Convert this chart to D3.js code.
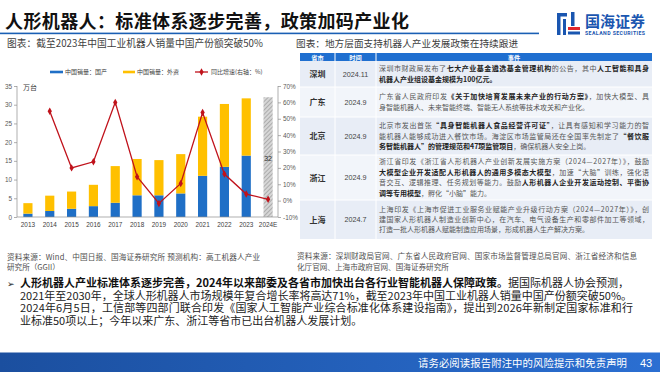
<!DOCTYPE html>
<html><head><meta charset="utf-8">
<script src="https://cdn.jsdelivr.net/npm/d3@7"></script>
<style>
body{margin:0;background:#fff;}
svg{display:block;font-family:"Noto Sans CJK SC","Noto Sans",sans-serif;}
</style>
</head><body>
<svg id="c" width="660" height="372"></svg>
<script>
// ---------------- data ----------------
const years = ["2013","2014","2015","2016","2017","2018","2019","2020","2021","2022","2023","2024E"];
const domestic = [0.9,1.6,2.2,2.9,3.8,5.8,5.8,6.3,11.0,13.4,16.4,0];
const foreign  = [2.8,4.1,4.6,5.7,9.8,9.7,9.4,10.5,15.8,16.8,15.3,0];
const forecast = [0,0,0,0,0,0,0,0,0,0,0,32];
const growth   = [null,54.6,20.0,23.7,60.0,14.6,-1.7,10.5,53.8,16.2,4.0,0.8];
const leftTicks  = [0,5,10,15,20,25,30,35];
const rightTicks = [-10,0,10,20,30,40,50,60,70];
const legendLabels = ["中国销量：国产","中国销量：外资","同比增速(右轴：%)"];

const provinces = ["深圳","广东","北京","浙江","上海"];
const dates = ["2024.11","2024.9","2024.9","2024.9","2024.7"];
// each row: lines, each line: segments [text, bold]
const events = [
  [[["深圳市财政局发布了",0],["七大产业基金遴选基金管理机构",1],["的公告，其中",0],["人工智能和具身",1]],
   [["机器人产业组设基金规模为100亿元。",1]]],
  [[["广东省人民政府印发",0],["《关于加快培育发展未来产业的行动方案》",1],["，加快大模型、具",0]],
   [["身智能机器人、未来智能终端、智能无人系统等技术攻关和产业化。",0]]],
  [[["北京市发出首张",0],["“具身智能机器人食品经营许可证”",1],["，让具有感知和学习能力的智",0]],
   [["能机器人能够成功进入餐饮市场。海淀区市场监管局还在全国率先制定了",0],["“餐饮服",1]],
   [["务智能机器人”的管理规范和47项监管项目",1],["，确保机器人安全上岗。",0]]],
  [[["浙江省印发《浙江省人形机器人产业创新发展实施方案（2024—2027年）》，鼓励",0]],
   [["大模型企业开发适配人形机器人的通用多模态大模型",1],["，加速“大脑”训练，强化语",0]],
   [["音交互、逻辑推理、任务规划等能力。鼓励",0],["人形机器人企业开发运动控制、平衡协",1]],
   [["调等专用模型",1],["，孵化“小脑”能力。",0]]],
  [[["上海印发《上海市促进工业服务业赋能产业升级行动方案（2024—2027年）》，创",0]],
   [["建国家人形机器人制造业创新中心，在汽车、电气设备生产和零部件加工等领域，",0]],
   [["打造一批人形机器人赋能制造应用场景，形成机器人生产解决方案。",0]]]
];
const rowBounds = [61,87,117,155,200,239];

// ---------------- setup ----------------
const svg = d3.select("#c");
const defs = svg.append("defs");
const fg = defs.append("linearGradient").attr("id","foot").attr("x1","0").attr("x2","1");
fg.append("stop").attr("offset","0").attr("stop-color","#1b4f9f");
fg.append("stop").attr("offset","1").attr("stop-color","#2b6fd2");
const pat = defs.append("pattern").attr("id","hatch").attr("patternUnits","userSpaceOnUse")
  .attr("width",3).attr("height",3).attr("patternTransform","rotate(45)");
pat.append("rect").attr("width",3).attr("height",3).attr("fill","#d6d6d6");
pat.append("line").attr("x1",0).attr("y1",0).attr("x2",0).attr("y2",3).attr("stroke","#9a9a9a").attr("stroke-width",1.4);

// ---------------- header ----------------
svg.append("text").attr("x",5).attr("y",27.8).attr("font-size",18).attr("font-weight","bold")
  .attr("fill","#111").attr("textLength",404).attr("lengthAdjust","spacing")
  .text("人形机器人：标准体系逐步完善，政策加码产业化");
svg.append("rect").attr("x",0).attr("y",32.6).attr("width",539).attr("height",1.6).attr("fill","#1a5fb4");

// logo
const lg = svg.append("g");
lg.append("rect").attr("x",557).attr("y",13).attr("width",10).attr("height",3.5).attr("fill","#1a56b0");
lg.append("rect").attr("x",557).attr("y",13).attr("width",3.5).attr("height",22).attr("fill","#1a56b0");
lg.append("rect").attr("x",563).attr("y",19).attr("width",3).attr("height",16).attr("fill","#1a56b0");
lg.append("rect").attr("x",571).attr("y",12).attr("width",3.5).attr("height",14).attr("fill","#1a56b0");
lg.append("rect").attr("x",568).attr("y",27).attr("width",12).attr("height",3).attr("fill","#e0262b");
lg.append("rect").attr("x",568).attr("y",31.5).attr("width",12).attr("height",3).attr("fill","#1a56b0");
svg.append("text").attr("x",585).attr("y",27).attr("font-size",15).attr("font-weight","bold")
  .attr("fill","#1a56b0").attr("textLength",60).text("国海证券");
svg.append("text").attr("x",585).attr("y",34.5).attr("font-size",5.2).attr("font-weight","bold")
  .attr("fill","#1a56b0").attr("textLength",60).attr("font-family","Roboto, sans-serif").text("SEALAND SECURITIES");

svg.append("text").attr("x",7).attr("y",46.5).attr("font-size",9.7).attr("fill","#404040")
  .attr("textLength",256).attr("lengthAdjust","spacing")
  .text("图表：截至2023年中国工业机器人销量中国产份额突破50%");
svg.append("text").attr("x",296).attr("y",46.5).attr("font-size",9.65).attr("fill","#404040")
  .attr("textLength",222).attr("lengthAdjust","spacing")
  .text("图表：地方层面支持机器人产业发展政策在持续跟进");

// ---------------- chart ----------------
const x = d3.scaleBand().domain(years).range([17,279]).paddingInner(0.58).paddingOuter(0.29);
const yL = d3.scaleLinear().domain([0,35]).range([217,86]);
const yR = d3.scaleLinear().domain([-10,70]).range([217,86]);

const table = years.map((y,i)=>({year:y, domestic:domestic[i], foreign:foreign[i], forecast:forecast[i]}));
const stack = d3.stack().keys(["domestic","foreign","forecast"])(table);
const colors = {domestic:"#1f6fc6", foreign:"#ffc000", forecast:"url(#hatch)"};

const cg = svg.append("g");
stack.forEach(s=>{
  cg.selectAll(null).data(s.filter(d=>d[1]-d[0]>0)).join("rect")
    .attr("x",d=>x(d.data.year)).attr("width",x.bandwidth())
    .attr("y",d=>yL(d[1])).attr("height",d=>yL(d[0])-yL(d[1]))
    .attr("fill",colors[s.key]);
});
// forecast label
cg.selectAll(null).data(table.filter(d=>d.forecast>0)).join("text")
  .attr("x",d=>x(d.year)+x.bandwidth()/2).attr("y",160.5).attr("text-anchor","middle")
  .attr("font-size",7).attr("fill","#333").attr("font-family","Liberation Sans, Arial, sans-serif")
  .text(d=>d.forecast);

// axes
const axL = d3.axisLeft(yL).tickValues(leftTicks).tickSize(3).tickPadding(2);
const gL = svg.append("g").attr("transform","translate(17,0)").call(axL);
const axR = d3.axisRight(yR).tickValues(rightTicks).tickSize(3).tickPadding(2).tickFormat(d=>d+"%");
const gR = svg.append("g").attr("transform","translate(278,0)").call(axR);
[gL,gR].forEach(g=>{
  g.selectAll("path,line").attr("stroke","#8c8c8c").attr("stroke-width",0.7);
  g.selectAll("text").attr("font-size",6.4).attr("fill","#595959").attr("font-family","Liberation Sans, Arial, sans-serif");
});
gL.select(".domain").attr("d","M0,217V86");
gR.select(".domain").attr("d","M0,217V86");
const axB = d3.axisBottom(x).tickSize(0).tickPadding(5);
const gB = svg.append("g").attr("transform","translate(0,217)").call(axB);
gB.select(".domain").attr("stroke","#8c8c8c").attr("stroke-width",0.7).attr("d","M17,0H278");
gB.selectAll("text").attr("font-size",6.4).attr("fill","#404040").attr("font-family","Liberation Sans, Arial, sans-serif");

svg.append("text").attr("x",23).attr("y",90).attr("font-size",7).attr("fill","#404040").text("万台");

// growth line
const pts = years.map((y,i)=>({year:y,v:growth[i]})).filter(d=>d.v!==null);
const line = d3.line().x(d=>x(d.year)+x.bandwidth()/2).y(d=>yR(d.v));
svg.append("path").datum(pts).attr("d",line).attr("fill","none").attr("stroke","#c0121b").attr("stroke-width",1.3);
svg.selectAll(null).data(pts).join("path")
  .attr("transform",d=>`translate(${x(d.year)+x.bandwidth()/2},${yR(d.v)})`)
  .attr("d",d3.symbol(d3.symbolDiamond,16)).attr("fill","#c0121b");

// legend
const lgd = svg.append("g").attr("font-size",6).attr("fill","#404040");
lgd.append("line").attr("x1",50).attr("x2",63).attr("y1",72).attr("y2",72).attr("stroke","#1f6fc6").attr("stroke-width",2.6);
lgd.append("text").attr("x",65).attr("y",74.2).text(legendLabels[0]);
lgd.append("line").attr("x1",123).attr("x2",135).attr("y1",72).attr("y2",72).attr("stroke","#ffc000").attr("stroke-width",2.6);
lgd.append("text").attr("x",137).attr("y",74.2).text(legendLabels[1]);
lgd.append("line").attr("x1",195).attr("x2",208).attr("y1",72).attr("y2",72).attr("stroke","#c0121b").attr("stroke-width",1.3);
lgd.append("path").attr("transform","translate(201.5,72)").attr("d",d3.symbol(d3.symbolDiamond,16)).attr("fill","#c0121b");
lgd.append("text").attr("x",211).attr("y",74.2).text(legendLabels[2]);

// ---------------- table ----------------
const tg = svg.append("g");
tg.append("rect").attr("x",300).attr("y",53).attr("width",352).attr("height",8).attr("fill","#1f6fd0");
[["省市",317.5],["时间",355.5],["事件",514]].forEach(([t,cx])=>{
  tg.append("text").attr("x",cx).attr("y",59.6).attr("text-anchor","middle").attr("font-size",6.2)
    .attr("font-weight","bold").attr("fill","#fff").text(t);
});
provinces.forEach((p,i)=>{
  const y0 = rowBounds[i], y1 = rowBounds[i+1], cy=(y0+y1)/2;
  tg.append("rect").attr("x",300).attr("y",y0).attr("width",352).attr("height",y1-y0)
    .attr("fill", i%2===0 ? "#e8edf6" : "#f2f5fa");
  tg.append("text").attr("x",317.5).attr("y",cy+3).attr("text-anchor","middle").attr("font-size",8)
    .attr("font-weight","bold").attr("fill","#333").text(p);
  tg.append("text").attr("x",355.5).attr("y",cy+2.6).attr("text-anchor","middle").attr("font-size",7.2)
    .attr("fill","#444").attr("font-family","Liberation Sans, Arial, sans-serif").text(dates[i]);
  const lines = events[i];
  const lh = 10.4;
  const first = cy - (lines.length-1)*lh/2;
  lines.forEach((segs,j)=>{
    const t = tg.append("text").attr("x",379).attr("y",first+j*lh+2.5).attr("font-size",7);
    if (j < lines.length-1) t.attr("textLength",270).attr("lengthAdjust","spacing");
    segs.forEach(([s,b])=>{
      t.append("tspan").attr("font-weight",b?"bold":"normal").attr("fill",b?"#222":"#555").text(s);
    });
  });
});
// white separators
tg.selectAll(null).data(rowBounds.slice(1,-1)).join("line")
  .attr("x1",300).attr("x2",652).attr("y1",d=>d).attr("y2",d=>d).attr("stroke","#fff").attr("stroke-width",1);
[335,376].forEach(xx=>tg.append("line").attr("x1",xx).attr("x2",xx).attr("y1",53).attr("y2",239)
  .attr("stroke","#fff").attr("stroke-width",1));

// ---------------- sources ----------------
const src = svg.append("g").attr("font-size",7.6).attr("fill","#505050");
src.append("text").attr("x",7).attr("y",260).attr("textLength",253).attr("lengthAdjust","spacing")
  .text("资料来源：Wind、中国日报、国海证券研究所 预测机构：高工机器人产业");
src.append("text").attr("x",7).attr("y",269.5).text("研究所（GGII）");
src.append("text").attr("x",297).attr("y",259).attr("textLength",340).attr("lengthAdjust","spacing")
  .text("资料来源：深圳财政局官网、广东省人民政府官网、国家市场监督管理总局官网、浙江省经济和信息");
src.append("text").attr("x",297).attr("y",269.5).text("化厅官网、上海市政府官网、国海证券研究所");

// ---------------- bullet paragraph ----------------
const pg = svg.append("g").attr("font-size",11).attr("fill","#222");
pg.append("text").attr("x",7).attr("y",287).attr("font-size",9).text("➢");
const p1 = pg.append("text").attr("x",20).attr("y",287.3);
p1.append("tspan").attr("font-weight","bold").attr("fill","#111")
  .text("人形机器人产业标准体系逐步完善，2024年以来部委及各省市加快出台各行业智能机器人保障政策。");
p1.append("tspan").text("据国际机器人协会预测，");
pg.append("text").attr("x",20).attr("y",299.8).attr("textLength",612).attr("lengthAdjust","spacing")
  .text("2021年至2030年，全球人形机器人市场规模年复合增长率将高达71%，截至2023年中国工业机器人销量中国产份额突破50%。");
pg.append("text").attr("x",20).attr("y",312.3).attr("textLength",613).attr("lengthAdjust","spacing")
  .text("2024年6月5日，工信部等四部门联合印发《国家人工智能产业综合标准化体系建设指南》，提出到2026年新制定国家标准和行");
pg.append("text").attr("x",20).attr("y",324.8)
  .text("业标准50项以上；今年以来广东、浙江等省市已出台机器人发展计划。");

// ---------------- footer ----------------
svg.append("rect").attr("x",0).attr("y",352.5).attr("width",660).attr("height",19.5).attr("fill","url(#foot)");
svg.append("text").attr("x",418).attr("y",366.8).attr("font-size",10.4).attr("fill","#fff")
  .attr("textLength",209).text("请务必阅读报告附注中的风险提示和免责声明");
svg.append("text").attr("x",640).attr("y",367).attr("font-size",11).attr("fill","#fff")
  .attr("font-family","Liberation Sans, Arial, sans-serif").text("43");
</script>
</body></html>
